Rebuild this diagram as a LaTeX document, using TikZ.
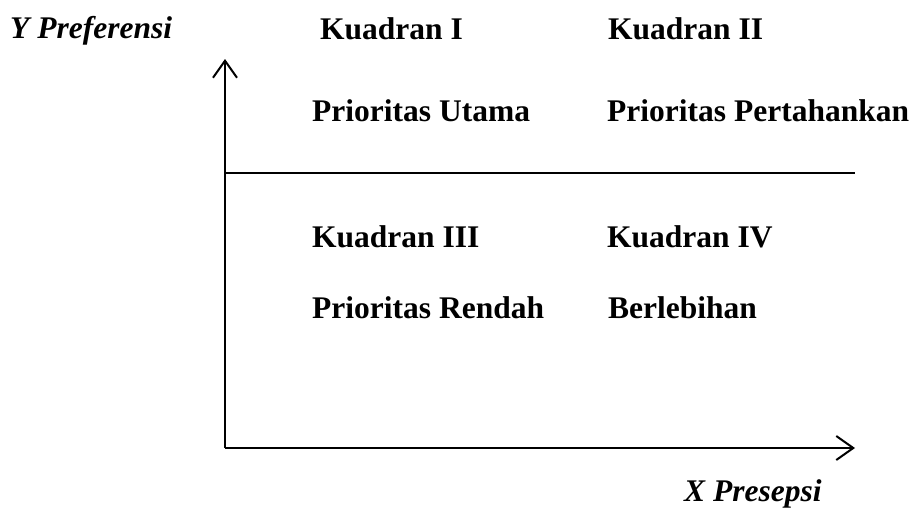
\documentclass[tikz,border=0pt]{standalone}
\usepackage{fontspec}
\setmainfont{Liberation Serif}
\usetikzlibrary{arrows.meta}

\tikzset{
  lbl/.style={anchor=base west,inner sep=0pt,font=\fontsize{31.5}{38}\selectfont\bfseries},
  axlbl/.style={lbl,font=\fontsize{31.5}{38}\selectfont\bfseries\itshape},
  axis/.style={line width=2pt,-{Straight Barb[length=17pt,width=24pt,line width=2pt]}}
}

\begin{document}
\begin{tikzpicture}[x=1pt,y=-1pt]
\useasboundingbox (0,0) rectangle (912,509);
% axes
\coordinate (O) at (225,448);
\coordinate (ytip) at (225,59);
\coordinate (xtip) at (855,448);
\coordinate (midL) at (225,173);
\coordinate (midR) at (855,173);
\draw[axis] (O) -- (ytip);
\draw[axis] (O) -- (xtip);
\draw[line width=2pt] (midL) -- (midR);

\node[axlbl] (ylab) at (10,38) {Y Preferensi};
\node[axlbl] (xlab) at (684,501) {X Presepsi};

% quadrants
\node[lbl] (k1) at (320,39) {Kuadran I};
\node[lbl] (k2) at (608,39) {Kuadran II};
\node[lbl] (p1) at (312,121) {Prioritas Utama};
\node[lbl] (p2) at (607,121) {Prioritas Pertahankan};
\node[lbl] (k3) at (312,247) {Kuadran III};
\node[lbl] (k4) at (607,247) {Kuadran IV};
\node[lbl] (p3) at (312,318) {Prioritas Rendah};
\node[lbl] (p4) at (608,318) {Berlebihan};

\end{tikzpicture}
\end{document}
